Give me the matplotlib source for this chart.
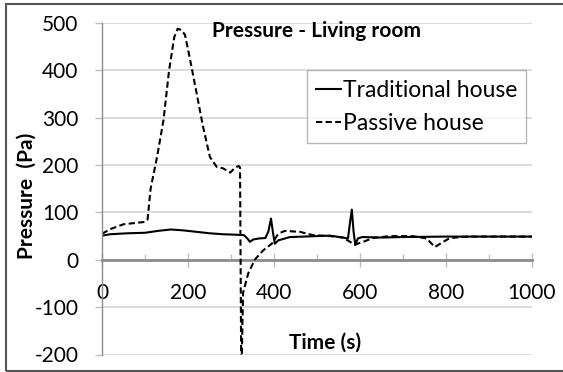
import matplotlib
matplotlib.use("Agg")
import matplotlib.pyplot as plt
from matplotlib.patches import Rectangle
from matplotlib.ticker import MultipleLocator

plt.rcParams['font.family'] = ['Lato', 'DejaVu Sans']
plt.rcParams['axes.unicode_minus'] = False

# Traditional house (solid)
trad_t = [0, 20, 60, 100, 130, 160, 190, 220, 250, 280, 310, 330, 338, 344, 352,
          365, 380, 387, 393, 398, 402, 410, 437, 470, 500, 530, 560, 572, 577,
          581, 585, 589, 595, 605, 650, 700, 800, 900, 1000]
trad_p = [51, 54, 56, 57, 61, 64, 62, 59, 56, 54, 53, 52, 45, 38, 43,
          45, 46, 60, 87, 55, 34, 41, 48, 49, 50, 51, 47, 45, 80,
          106, 60, 31, 45, 48, 47, 48, 49, 49, 49]

# Passive house (dashed)
pass_t = [0, 20, 50, 100, 106, 113, 128, 143, 156, 168, 176, 185, 193, 205, 220,
          235, 251, 267, 282, 298, 310, 318, 321, 324, 328, 340, 355, 375, 395,
          410, 425, 460, 491, 530, 560, 588, 608, 630, 670, 723, 755, 774, 794,
          809, 850, 900, 1000]
pass_p = [55, 65, 75, 80, 85, 150, 217, 295, 400, 470, 488, 485, 475, 422, 352,
          281, 217, 196, 193, 184, 195, 198, 195, -260, -70, -29, 0, 20, 34,
          55, 61, 59, 52, 50, 47, 32, 38, 46, 50, 50, 45, 27, 38,
          46, 49, 49, 49]

W, H = 563, 372
fig = plt.figure(figsize=(W / 100, H / 100), dpi=100)
ax = fig.add_axes([102 / W, 17.5 / H, 430 / W, 331.5 / H])

ax.plot(trad_t, trad_p, color='black', lw=1.5, label='Traditional house')
ax.plot(pass_t, pass_p, color='black', lw=1.5, linestyle=(0, (3, 1.6)),
        label='Passive house')

ax.set_xlim(0, 1000)
ax.set_ylim(-200, 500)

# axes styling, excel-like
grey = '#8c8c8c'
for s in ['top', 'right']:
    ax.spines[s].set_visible(False)
ax.spines['left'].set_color(grey)
ax.spines['left'].set_linewidth(1.0)
ax.spines['bottom'].set_position(('data', 0))
ax.spines['bottom'].set_color(grey)
ax.spines['bottom'].set_linewidth(2.0)
ax.spines['bottom'].set_zorder(1)

ax.yaxis.grid(True, color='#d9d9d9', lw=1.3, zorder=0)
ax.set_axisbelow(True)
ax.set_yticks(range(-200, 501, 100))
ax.xaxis.set_major_locator(MultipleLocator(200))
ax.xaxis.set_minor_locator(MultipleLocator(100))
ax.tick_params(axis='x', which='major', direction='inout', length=10, width=1,
               color='#bfbfbf', pad=12, labelsize=15)
ax.tick_params(axis='x', which='minor', direction='in', length=4.5, width=1,
               color='#bfbfbf')
ax.tick_params(axis='y', direction='out', length=5, width=1, color='#bfbfbf',
               pad=12, labelsize=15)

ax.text(0.5, 0.957, 'Pressure - Living room', transform=ax.transAxes,
        ha='center', va='baseline', fontsize=15, fontweight='bold')
ax.text(0.519, 0.035, 'Time (s)', transform=ax.transAxes, ha='center',
        va='center', fontsize=15, fontweight='bold')
ax.set_ylabel('Pressure  (Pa)', fontsize=15, fontweight='bold')
ax.yaxis.set_label_coords(-0.152, 0.48)

leg = ax.legend(loc='upper left', bbox_to_anchor=(0.477, 0.857), borderaxespad=0,
                fontsize=16.5, frameon=True, fancybox=False, handlelength=1.1,
                handletextpad=0.05, labelspacing=0.55, borderpad=0.4)
leg.get_frame().set_edgecolor('#a6a6a6')
leg.get_frame().set_linewidth(1.0)

# outer border of the picture
fig.patches.append(Rectangle((6 / W, 1.3 / H), 1.2, 1 - 5.3 / H,
                             transform=fig.transFigure, fill=False,
                             edgecolor='#555555', lw=1.5))

fig.savefig('out.png', dpi=100)
